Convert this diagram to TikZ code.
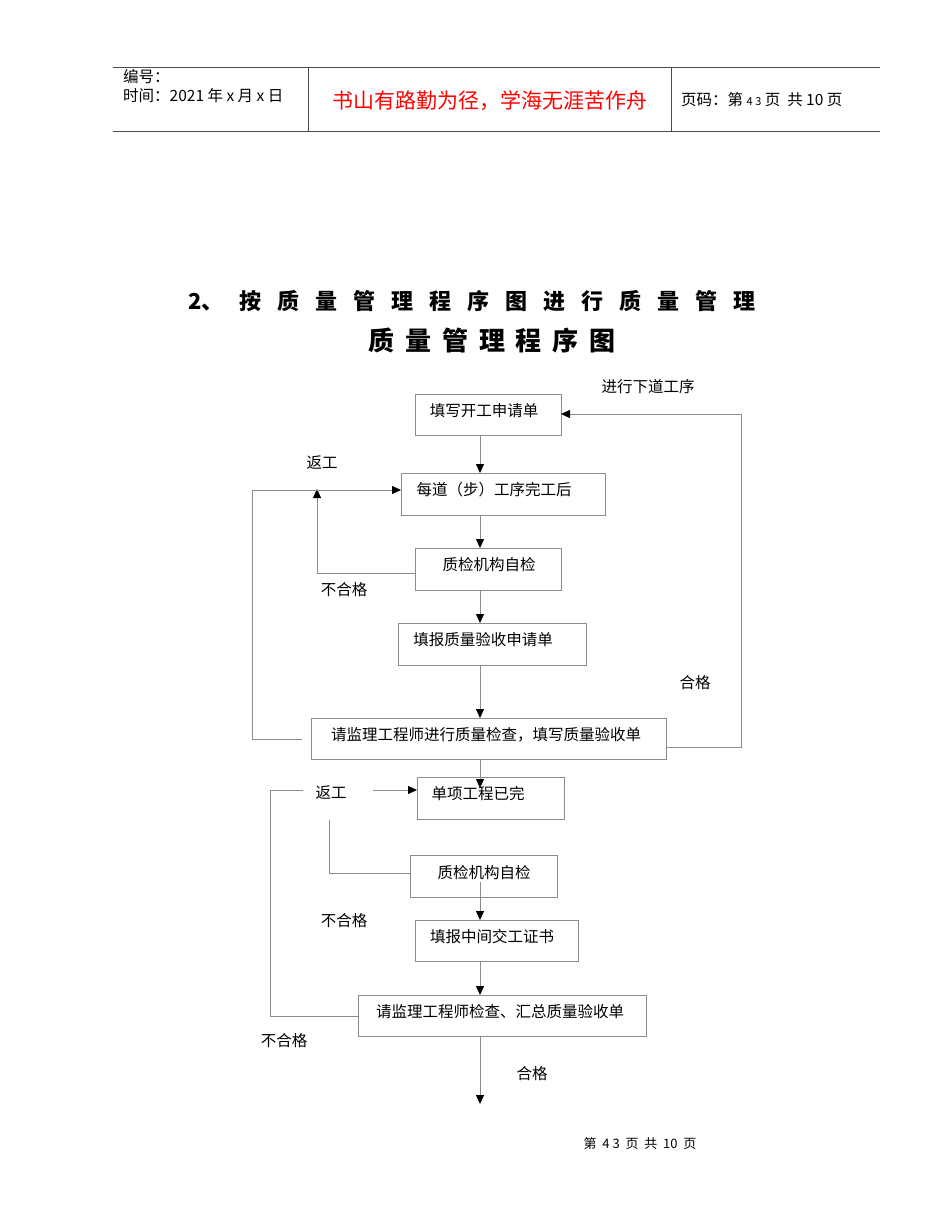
\documentclass[tikz,border=0pt]{standalone}
\usepackage{fontspec}
\setmainfont{Noto Sans CJK SC}
\usetikzlibrary{arrows.meta}
\newcommand{\gA}{\hspace{16pt}}
\newcommand{\gB}{\hspace{11pt}}
\begin{document}
\begin{tikzpicture}[x=1pt,y=-1pt,
  box/.style={draw=black!45,line width=0.8pt,inner sep=0pt},
  ln/.style={draw=black!45,line width=0.8pt},
  arr/.style={ln,-{Triangle[length=9pt,width=8pt,fill=black,color=black]}},
  lab/.style={font=\fontsize{15.5}{17}\selectfont,inner sep=0pt},
  txt/.style={font=\fontsize{15.5}{17}\selectfont,inner sep=0pt}]
\useasboundingbox (0,0) rectangle (950,1230);
% header
\draw[black!70,line width=0.8pt] (113,67) -- (880,67) (113,131) -- (880,131) (308,67) -- (308,131) (671,67) -- (671,131);
\node[lab,anchor=west] (h1) at (123,77) {编号：};
\node[lab,anchor=west] (h2) at (123,96) {时间：2021 年 x 月 x 日};
\node[inner sep=0pt,text=red,font=\fontsize{21}{23}\selectfont] (h3) at (490,101) {书山有路勤为径，学海无涯苦作舟};
\node[lab,anchor=west] (h4) at (681,100) {页码：第 {\fontsize{11}{12}\selectfont 4\ 3} 页\ \ 共 10 页};
% titles
\node[inner sep=0pt,font=\bfseries\fontsize{22}{24}\selectfont,anchor=west] (t1) at (188,301) {2、\gA 按\gA 质\gA 量\gA 管\gA 理\gA 程\gA 序\gA 图\gA 进\gA 行\gA 质\gA 量\gA 管\gA 理};
\node[inner sep=0pt,font=\bfseries\fontsize{26}{28}\selectfont] (t2) at (492,341) {质\gB 量\gB 管\gB 理\gB 程\gB 序\gB 图};
% boxes
\path[box] (415,394) rectangle (561,435); \node[txt] (b1) at (484,411) {填写开工申请单};
\path[box] (401,473) rectangle (605,515); \node[txt] (b2) at (494,490) {每道（步）工序完工后};
\path[box] (415,548) rectangle (561,590); \node[txt] (b3) at (489,565) {质检机构自检};
\path[box] (398,623) rectangle (586,665); \node[txt] (b4) at (483,640) {填报质量验收申请单};
\path[box] (311,718) rectangle (666,759); \node[txt] (b5) at (486,735) {请监理工程师进行质量检查，填写质量验收单};
\path[box] (417,777) rectangle (564,819); \node[txt] (b6) at (478,794) {单项工程已完};
\path[box] (410,855) rectangle (557,897); \node[txt] (b7) at (484,873) {质检机构自检};
\path[box] (415,920) rectangle (578,961); \node[txt] (b8) at (492,937) {填报中间交工证书};
\path[box] (358,995) rectangle (646,1036); \node[txt] (b9) at (500,1012) {请监理工程师检查、汇总质量验收单};
% labels
\node[lab] (l1) at (648,387) {进行下道工序};
\node[lab] (l2) at (322,463) {返工};
\node[lab] (l3) at (344,590) {不合格};
\node[lab] (l4) at (695,683) {合格};
\node[lab] (l5) at (331,793) {返工};
\node[lab] (l6) at (344,921) {不合格};
\node[lab] (l7) at (284,1041) {不合格};
\node[lab] (l8) at (532,1074) {合格};
% coordinates
\coordinate (c1) at (480,435); \coordinate (c1e) at (480,473);
\coordinate (c2) at (480,515); \coordinate (c2e) at (480,548);
\coordinate (c3) at (480,590); \coordinate (c3e) at (480,623);
\coordinate (c4) at (480,665); \coordinate (c4e) at (480,718);
\coordinate (c5) at (480,759); \coordinate (c5e) at (480,788);
\coordinate (c7) at (480,882); \coordinate (c7e) at (480,920);
\coordinate (c8) at (480,961); \coordinate (c8e) at (480,995);
\coordinate (c9) at (480,1036); \coordinate (c9e) at (480,1104);
\draw[arr] (c1) -- (c1e);
\draw[arr] (c2) -- (c2e);
\draw[arr] (c3) -- (c3e);
\draw[arr] (c4) -- (c4e);
\draw[arr] (c5) -- (c5e);
\draw[arr] (c7) -- (c7e);
\draw[arr] (c8) -- (c8e);
\draw[arr] (c9) -- (c9e);
% loops
\coordinate (r1) at (415,573); \coordinate (r1e) at (317,489);
\draw[arr] (r1) -| (r1e);
\coordinate (r2) at (302,739); \coordinate (r2a) at (252,490); \coordinate (r2e) at (401,490);
\draw[arr] (r2) -| (r2a) -- (r2e);
\coordinate (r3) at (666,747); \coordinate (r3a) at (741,414); \coordinate (r3e) at (561,414);
\draw[arr] (r3) -| (r3a) -- (r3e);
\coordinate (r4) at (303,790); \coordinate (r4a) at (270,1016); \coordinate (r4e) at (358,1016);
\draw[ln] (r4) -| (r4a) -- (r4e);
\coordinate (r5) at (373,790); \coordinate (r5e) at (417,790);
\draw[arr] (r5) -- (r5e);
\coordinate (r6) at (329,820); \coordinate (r6e) at (410,873);
\draw[ln] (r6) |- (r6e);
% footer
\node[inner sep=0pt,font=\fontsize{13}{14}\selectfont] (f) at (640,1144) {第\ \ 4\ 3\ \ 页\ \ 共\ \ 10\ \ 页};
\end{tikzpicture}
\end{document}
